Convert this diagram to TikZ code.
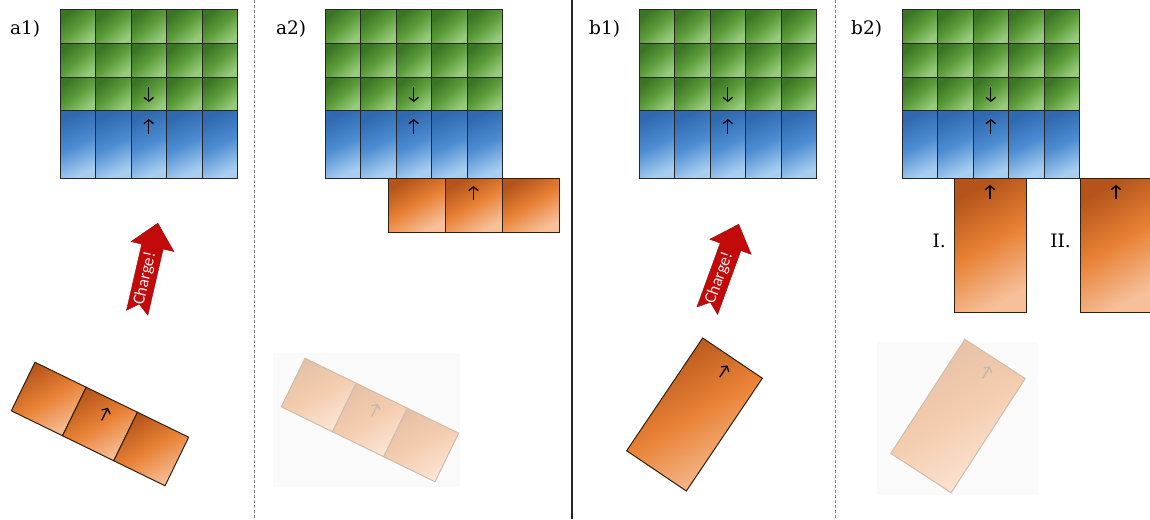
\documentclass[tikz,border=0pt]{standalone}
\usepackage{fontspec}
\newfontfamily\chargefont{Carlito}
\newfontfamily\tagfont{DejaVu Serif}
\usetikzlibrary{arrows.meta}
\definecolor{gtop}{HTML}{3A7424}
\definecolor{gmid}{HTML}{5C9C3A}
\definecolor{gbot}{HTML}{98CC7C}
\definecolor{btop}{HTML}{3069B0}
\definecolor{bmid}{HTML}{4C8CD2}
\definecolor{bbot}{HTML}{A8CEF0}
\definecolor{otop}{HTML}{B4541A}
\definecolor{omid}{HTML}{E98236}
\definecolor{obot}{HTML}{F6C09A}
\definecolor{ftop}{HTML}{E6C0A6}
\definecolor{fmid}{HTML}{F4CDB0}
\definecolor{fbot}{HTML}{FBE6D6}
\definecolor{chargered}{HTML}{C20A0A}
\begin{document}
\begin{tikzpicture}[x=1pt,y=-1pt,
		greencell/.style={draw=black!85,line width=1pt,top color=gtop,bottom color=gbot,middle color=gmid,shading angle=40},
		bluecell/.style={draw=black!85,line width=1pt,top color=btop,bottom color=bbot,middle color=bmid,shading angle=25},
		orangecell/.style={draw=black!75!brown,line width=1pt,top color=otop,bottom color=obot,middle color=omid,shading angle=30},
		fadedcell/.style={draw=black!30!brown!40,line width=1pt,top color=ftop,bottom color=fbot,middle color=fmid,shading angle=30},
		spin/.style={line width=1.3pt,-{Straight Barb[length=3.8pt,width=9.5pt]}},
		fadedspin/.style={spin,draw=black!40!brown!40},
		tag/.style={font=\tagfont\fontsize{18.5}{22}\selectfont,inner sep=0pt,anchor=base west},
		charge/.style={fill=chargered,draw=chargered!80!black,line width=.4pt},
		chargetext/.style={text=white!92!red,font=\chargefont\fontsize{17}{19}\selectfont,inner sep=0pt}]
	\useasboundingbox (0,0) rectangle (1150,519);
	% panel borders
	\draw[dashed,gray,line width=.6pt,dash pattern=on 3pt off 2pt] (254,0)--(254,519);
	\draw[line width=2.6pt,black!85] (572,0)--(572,519);
	\draw[dashed,gray,line width=.6pt,dash pattern=on 3pt off 2pt] (835,0)--(835,519);
	% the four grids
	\foreach \gx/\lab/\lx in {60/a1/10,325/a2/276,639/b1/589,902/b2/851}{
		\foreach \c in {0,...,4}{
			\foreach \r in {0,1,2}
				\draw[greencell] (\gx+\c*35.5,10+\r*33.6) rectangle ++(35.5,33.6);
			\draw[bluecell] (\gx+\c*35.5,110.8) rectangle ++(35.5,67.2);
		}
		\draw[spin] (\gx+88.75,87)--++(0,15);
		\draw[spin] (\gx+88.75,134)--++(0,-15);
		\node[tag] (lab-\lab) at (\lx,35) {\lab)};
	}
	% a1
	\begin{scope}[shift={(147.5,268)},rotate=-13]
		\draw[charge] (0,-46)--(22,-22)--(11,-22)--(11,46)--(0,37)--(-11,46)--(-11,-22)--(-22,-22)--cycle;
		\node[chargetext,rotate=77] (charge-a) at (0,11) {Charge!};
	\end{scope}
	\begin{scope}[shift={(100,424)},rotate=-26]
		\foreach \c in {0,1,2}
			\draw[orangecell] (-85.5+\c*57,-27) rectangle ++(57,54);
		\draw[spin] (0,-4)--(0,-18);
	\end{scope}
	% a2
	\foreach \c in {0,1,2}
		\draw[orangecell] (388+\c*57,178) rectangle ++(57,54);
	\draw[spin] (473.5,200)--(473.5,186);
	\fill[black!2] (273,353) rectangle (460,487);
	\begin{scope}[shift={(370,420)},rotate=-26]
		\foreach \c in {0,1,2}
			\draw[fadedcell] (-85.5+\c*57,-27) rectangle ++(57,54);
		\draw[fadedspin] (0,-4)--(0,-18);
	\end{scope}
	% b1
	\begin{scope}[shift={(723,267.5)},rotate=-20]
		\draw[charge] (0,-46)--(22,-22)--(11,-22)--(11,46)--(0,37)--(-11,46)--(-11,-22)--(-22,-22)--cycle;
		\node[chargetext,rotate=70] (charge-b) at (0,11) {Charge!};
	\end{scope}
	\begin{scope}[shift={(694.5,414.5)},rotate=-34]
		\draw[orangecell] (-36,-68) rectangle (36,68);
		\draw[spin] (0,-45)--(0,-59);
	\end{scope}
	% b2
	\draw[orangecell] (954,178) rectangle (1026,312);
	\draw[spin] (990,199)--(990,185);
	\draw[orangecell] (1080,178) rectangle (1152,312);
	\draw[spin] (1116,199)--(1116,185);
	\node[tag,anchor=base east] (lab-I) at (946,247) {I.};
	\node[tag,anchor=base east] (lab-II) at (1071,247) {II.};
	\fill[black!2] (877,342) rectangle (1038,495);
	\begin{scope}[shift={(958,416)},rotate=-33]
		\draw[fadedcell] (-36,-68) rectangle (36,68);
		\draw[fadedspin] (0,-45)--(0,-59);
	\end{scope}
\end{tikzpicture}
\end{document}
